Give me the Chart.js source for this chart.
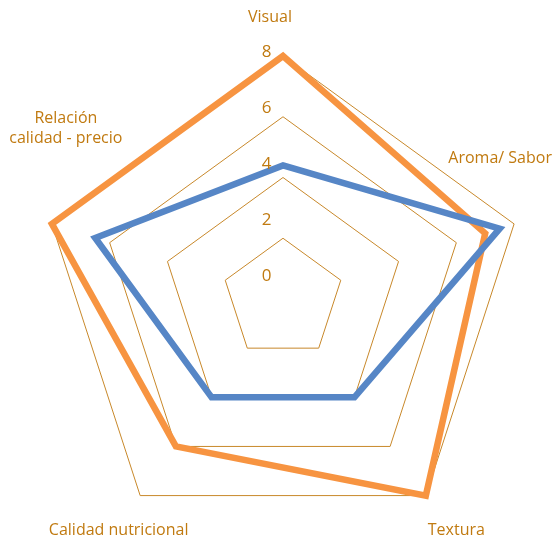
<!DOCTYPE html>
<html>
<head>
<meta charset="utf-8">
<script src="https://cdn.jsdelivr.net/npm/chart.js@4/dist/chart.umd.min.js"></script>
<style>
  html, body { margin: 0; background: #fff; overflow: hidden; }
  /* a few px taller than the window: the outer ring sits low in the original */
  #wrap { width: 556px; height: 543px; }
</style>
</head>
<body>
<div id="wrap"><canvas id="chart"></canvas></div>
<script>
const categories = ["Visual", "Aroma/ Sabor", "Textura", "Calidad nutricional", ["Relación", "calidad - precio"]];
const serieAzul = [4.4, 7.5, 4, 4, 6.5];
const serieNaranja = [8, 7, 8, 6, 8];
const tickValues = [0, 2, 4, 6, 8];

const textColor = "#c07a10";
const gridColor = "#c8882a";
const fontFamily = "'Open Sans', sans-serif";

// Excel leaves its labels a bit off the axes, so they are nudged from the scale positions
const labelNudge = [[-13, 1.5], [-52, -53], [7, 2], [2, 2], [52, -83]];

const excelLabels = {
  id: "excelLabels",
  afterDraw(chart) {
    const scale = chart.scales.r;
    const ctx = chart.ctx;
    ctx.save();
    ctx.fillStyle = textColor;
    ctx.textAlign = "center";
    ctx.textBaseline = "middle";

    // value labels of the radial axis, left of the vertical axis
    ctx.font = "17px " + fontFamily;
    tickValues.forEach(v => {
      const d = scale.getDistanceFromCenterForValue(v);
      ctx.fillText(String(v), scale.xCenter - 16.5, scale.yCenter - (23 + 0.92 * d));
    });

    // category labels
    ctx.font = "16px " + fontFamily;
    categories.forEach((lab, i) => {
      const p = scale.getPointPosition(i, scale.drawingArea + 40);
      const lines = Array.isArray(lab) ? lab : [lab];
      const x = p.x + labelNudge[i][0];
      const y0 = p.y + labelNudge[i][1] - (lines.length - 1) * 9.75;
      lines.forEach((l, j) => ctx.fillText(l, x, y0 + j * 19.5));
    });
    ctx.restore();
  }
};

new Chart(document.getElementById("chart"), {
  type: "radar",
  data: {
    labels: categories,
    datasets: [
      {
        label: "Serie 1",
        data: serieAzul,
        borderColor: "#5686c6",
        borderWidth: 6.5,
        pointRadius: 0,
        fill: false
      },
      {
        label: "Serie 2",
        data: serieNaranja,
        borderColor: "#f79441",
        borderWidth: 6.5,
        pointRadius: 0,
        fill: false
      }
    ]
  },
  plugins: [excelLabels],
  options: {
    responsive: true,
    maintainAspectRatio: false,
    animation: false,
    layout: { padding: { left: 29, right: 18, top: 55.5, bottom: 0.5 } },
    plugins: {
      legend: { display: false },
      tooltip: { enabled: false }
    },
    scales: {
      r: {
        min: 0,
        max: 8,
        afterBuildTicks: (scale) => {
          scale.ticks = tickValues.map(v => ({ value: v }));
        },
        angleLines: { display: false },
        grid: { color: gridColor, lineWidth: 1 },
        pointLabels: { display: false },
        ticks: { display: false }
      }
    }
  }
});
</script>
</body>
</html>
